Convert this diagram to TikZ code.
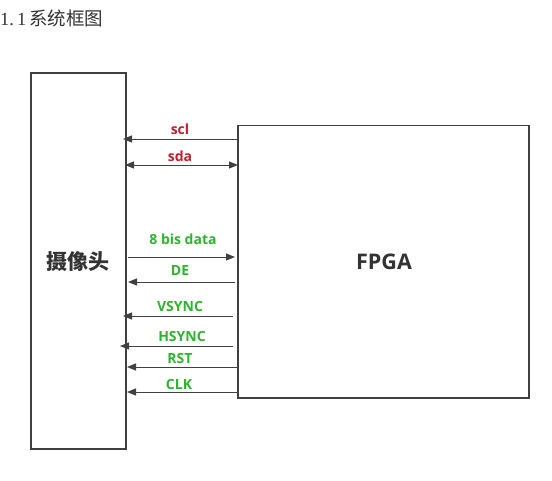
\documentclass[tikz,border=0pt]{standalone}
\usepackage{fontspec}
\setmainfont{Liberation Serif}
\newfontfamily\cjk{Noto Sans CJK SC}
\newfontfamily\lab{Open Sans}
\usetikzlibrary{arrows.meta}
\definecolor{linegray}{HTML}{404040}
\definecolor{sigred}{HTML}{C0202A}
\definecolor{siggreen}{HTML}{2DB52D}
\definecolor{txtgray}{HTML}{333333}
\begin{document}
\begin{tikzpicture}[x=1pt,y=-1pt,
  blk/.style={draw=linegray,line width=1.1pt,fill=white},
  sig/.style={draw=linegray,line width=1pt,-{Triangle[length=9pt,width=7pt]}},
  bsig/.style={draw=linegray,line width=1pt,{Triangle[length=9pt,width=7pt]}-{Triangle[length=9pt,width=7pt]}},
  redlab/.style={text=sigred,font=\lab\bfseries\fontsize{14}{16}\selectfont,inner sep=0pt},
  greenlab/.style={text=siggreen,font=\lab\bfseries\fontsize{14}{16}\selectfont,inner sep=0pt}]
\useasboundingbox (0,0) rectangle (552,480);
\fill[white] (0,0) rectangle (552,480);
\node[anchor=west,inner sep=0pt,text=txtgray] (title) at (0,18) {\fontsize{18.5}{20}\selectfont 1.\,1\,{\cjk 系统框图}};
\draw[blk] (31,73) rectangle (126,449);
\node[text=txtgray,inner sep=0pt] (camlab) at (78,262) {\cjk\bfseries\fontsize{21}{24}\selectfont 摄像头};
\draw[blk] (238,125.5) rectangle (529,398);
\node[text=txtgray,inner sep=0pt] (fpgalab) at (384,262) {\lab\bfseries\fontsize{21.5}{24}\selectfont FPGA};
% endpoints
\coordinate (sclA) at (238,139); \coordinate (sclB) at (123,139);
\coordinate (sdaA) at (125,165); \coordinate (sdaB) at (238,165);
\coordinate (datA) at (128,257); \coordinate (datB) at (235,257);
\coordinate (deA) at (235,282); \coordinate (deB) at (128,282);
\coordinate (vsA) at (233,316); \coordinate (vsB) at (123,316);
\coordinate (hsA) at (233,346); \coordinate (hsB) at (120,346);
\coordinate (rstA) at (238,367); \coordinate (rstB) at (127,367);
\coordinate (clkA) at (238,392); \coordinate (clkB) at (127,392);
\draw[sig] (sclA) -- (sclB);
\draw[bsig] (sdaA) -- (sdaB);
\draw[sig] (datA) -- (datB);
\draw[sig] (deA) -- (deB);
\draw[sig] (vsA) -- (vsB);
\draw[sig] (hsA) -- (hsB);
\draw[sig] (rstA) -- (rstB);
\draw[sig] (clkA) -- (clkB);
\node[redlab] (scl) at (180,129) {scl};
\node[redlab] (sda) at (180,156) {sda};
\node[greenlab] (dat) at (183,239) {8 bis data};
\node[greenlab] (de) at (180,270) {DE};
\node[greenlab] (vs) at (180,306) {VSYNC};
\node[greenlab] (hs) at (182,336) {HSYNC};
\node[greenlab] (rst) at (180,358) {RST};
\node[greenlab] (clk) at (179,384) {CLK};
\end{tikzpicture}
\end{document}
